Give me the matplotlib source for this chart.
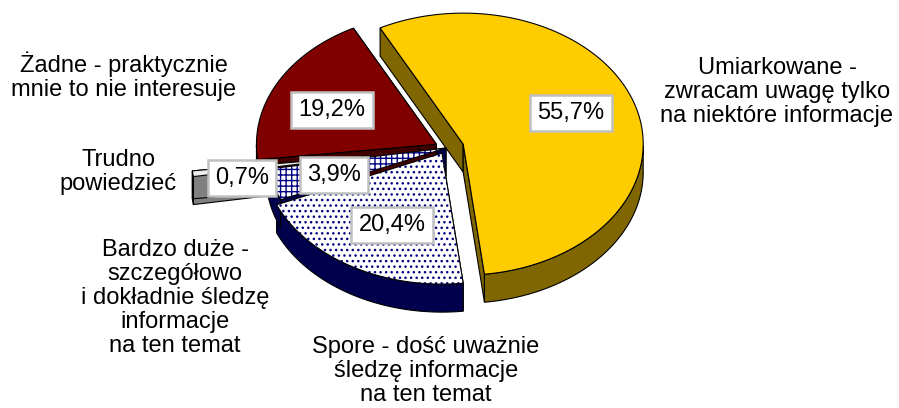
import numpy as np
import matplotlib.pyplot as plt
from matplotlib.patches import Polygon

plt.rcParams['font.family'] = ['Liberation Sans', 'DejaVu Sans']

# slices in clockwise order, starting from the top-left
labels = ['Umiarkowane -\nzwracam uwagę tylko\nna niektóre informacje',
          'Spore - dość uważnie\nśledzę informacje\nna ten temat',
          'Bardzo duże -\nszczegółowo\ni dokładnie śledzę\ninformacje\nna ten temat',
          'Trudno\npowiedzieć',
          'Żadne - praktycznie\nmnie to nie interesuje']
values = [55.7, 20.4, 3.9, 0.7, 19.2]
pct_labels = ['55,7%', '20,4%', '3,9%', '0,7%', '19,2%']

top_colors = ['#FFCC00', 'white', 'white', '#EEEEEE', '#800000']
side_colors = ['#806600', '#00004D', '#00004D', '#808080', '#400000']
hatches = [None, '...', '+++', None, None]
explode = [0.1, 0.045, 0.0, 0.42, 0.06]

# label placement (pixel coords, y down)
label_pos = [(777, 92), (426, 371), (175, 298), (118, 172), (124, 76)]
pct_pos = [(571, 113), (392, 225), (334, 175), (242, 178), (332, 110)]

# pie geometry
cx, cy = 446, 148
rx, ry = 180, 131
depth = 28
start = 117.5

fig = plt.figure(figsize=(8.99, 4.08), dpi=100)
ax = fig.add_axes([0, 0, 1, 1])
ax.set_xlim(0, 899)
ax.set_ylim(408, 0)
ax.axis('off')

total = sum(values)
bounds = start - 360 * np.concatenate([[0], np.cumsum(values)]) / total


def pt(x0, y0, t):
    return x0 + rx * np.cos(np.radians(t)), y0 - ry * np.sin(np.radians(t))


def face(xy, fc, ec, hatch, z):
    if hatch:
        ax.add_patch(Polygon(xy, closed=True, facecolor=fc, edgecolor='#000080',
                             hatch=hatch, lw=0, zorder=z))
        ax.add_patch(Polygon(xy, closed=True, facecolor='none', edgecolor=ec,
                             lw=0.8, zorder=z))
    else:
        ax.add_patch(Polygon(xy, closed=True, facecolor=fc, edgecolor=ec,
                             lw=0.8, zorder=z))


slices = []
for i, v in enumerate(values):
    a0, a1 = bounds[i], bounds[i + 1]
    mid = np.radians((a0 + a1) / 2)
    vx = cx + explode[i] * rx * np.cos(mid)
    vy = cy - explode[i] * ry * np.sin(mid)
    slices.append((a0, a1, vx, vy))

# radial walls
for i, (a0, a1, vx, vy) in enumerate(slices):
    for a in (a0, a1):
        ex, ey = pt(vx, vy, a)
        xy = [(vx, vy), (ex, ey), (ex, ey + depth), (vx, vy + depth)]
        face(xy, side_colors[i], 'black', None, 1)

# outer walls (front half only)
for i, (a0, a1, vx, vy) in enumerate(slices):
    t = np.linspace(a0, a1, 300)
    vis = np.sin(np.radians(t)) <= 0
    if vis.sum() < 2:
        continue
    t = t[vis]
    xs, ys = pt(vx, vy, t)
    xy = list(zip(xs, ys)) + list(zip(xs[::-1], ys[::-1] + depth))
    face(xy, side_colors[i], 'black', None, 2)

# top faces
for i, (a0, a1, vx, vy) in enumerate(slices):
    t = np.linspace(a0, a1, 300)
    xs, ys = pt(vx, vy, t)
    xy = [(vx, vy)] + list(zip(xs, ys))
    face(xy, top_colors[i], 'black', hatches[i], 3)

for i in range(len(values)):
    ax.text(*label_pos[i], labels[i], ha='center', va='center', fontsize=17,
            linespacing=1.12, zorder=5)
    ax.text(*pct_pos[i], pct_labels[i], ha='center', va='center', fontsize=17,
            zorder=6,
            bbox=dict(boxstyle='square,pad=0.3', facecolor='white',
                      edgecolor='#C0C0C0', lw=1.8))

fig.savefig('out.png', dpi=100)
